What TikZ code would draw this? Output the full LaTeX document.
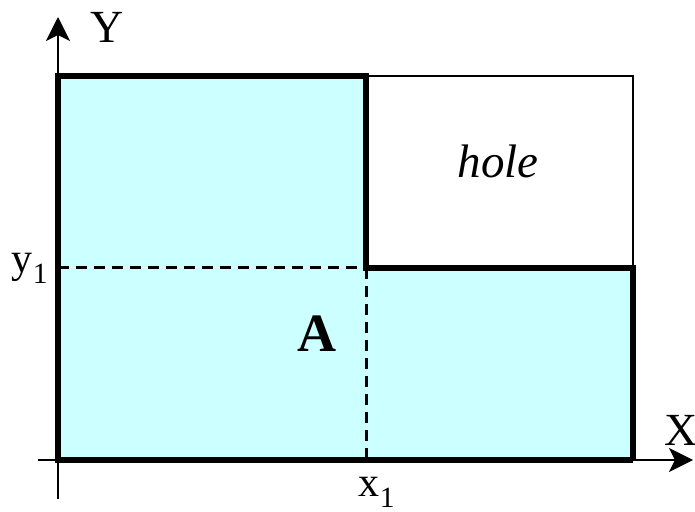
\documentclass[tikz,border=0pt]{standalone}
\usepackage{fontspec}
\setmainfont{Liberation Serif}
\usetikzlibrary{arrows.meta}
\definecolor{areafill}{HTML}{CCFFFF}
\tikzset{
  edge/.style={line width=5.5pt},
  thinedge/.style={line width=2.8pt},
  guide/.style={line width=3pt, dash pattern=on 11pt off 7pt},
  axis/.style={line width=2.5pt, -{Stealth[length=24pt,width=24pt,inset=6pt]}},
  lbl/.style={font=\fontsize{46}{50}\selectfont, inner sep=0pt}
}
\begin{document}
\begin{tikzpicture}[x=1pt,y=1pt]
    \useasboundingbox (0,0) rectangle (695,511);

    %corners
    \coordinate (o) at (58,51);
    \coordinate (tl) at (58,435);
    \coordinate (tm) at (366,435);
    \coordinate (tr) at (633,435);
    \coordinate (mm) at (366,243);
    \coordinate (mr) at (633,243);
    \coordinate (ml) at (58,243);
    \coordinate (bm) at (366,51);
    \coordinate (br) at (633,51);

    %area A
    \fill [areafill] (o) -- (tl) -- (tm) -- (mm) -- (mr) -- (br) -- cycle;

    %dashed guides
    \draw [guide] (ml) to (mm);
    \draw [guide] (mm) to (bm);

    %hole outline
    \draw [thinedge] (tm) to (tr) to (mr);

    %axes
    \coordinate (xs) at (38,51);
    \coordinate (xe) at (693,51);
    \coordinate (ys) at (58,12);
    \coordinate (ye) at (58,494);
    \draw [axis] (xs) to (xe);
    \draw [axis] (ys) to (ye);

    %outline of A
    \draw [edge, line join=miter] (br) to (o) to (tl) to (tm) to (mm) to (mr) to (br);

    %labels
    \node [lbl] (ylab) at (107,484) {Y};
    \node [lbl] (xlab) at (681,81) {X};
    \node [lbl, font=\fontsize{42}{46}\selectfont] (y1lab) at (30,243) {y\textsubscript{1}};
    \node [lbl, font=\fontsize{42}{46}\selectfont] (x1lab) at (377,19) {x\textsubscript{1}};
    \node [lbl, font=\fontsize{54}{58}\selectfont\bfseries] (alab) at (317,177) {A};
    \node [lbl, font=\fontsize{47}{51}\selectfont\itshape] (holelab) at (498,350) {hole};
\end{tikzpicture}
\end{document}
